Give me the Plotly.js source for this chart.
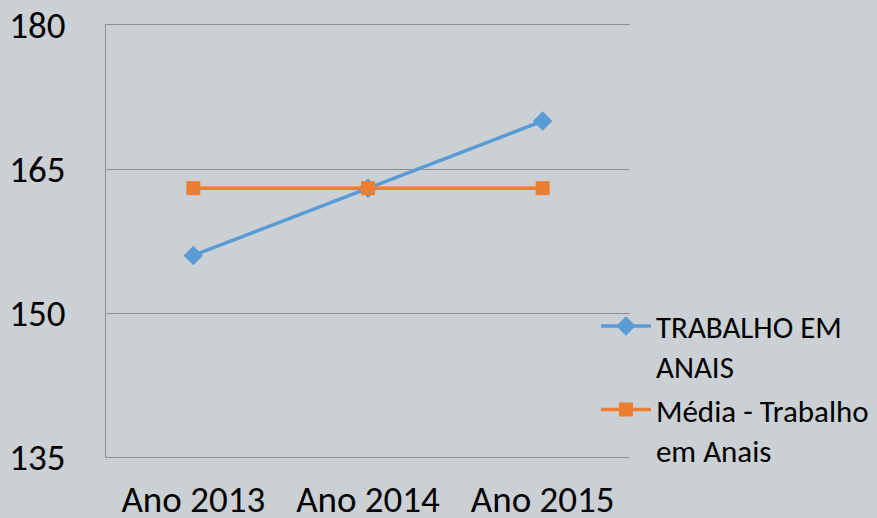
<!DOCTYPE html>
<html><head><meta charset="utf-8">
<script src="https://cdn.plot.ly/plotly-3.0.1.min.js"></script>
<style>html,body{margin:0;padding:0;background:#cbd0d4;}</style>
</head><body>
<div id="chart" style="width:877px;height:518px;"></div>
<script>
const categories = ["Ano 2013", "Ano 2014", "Ano 2015"];
const trabalhoValues = [156, 163, 170];
const mediaValues = [163, 163, 163];
const yTicks = [135, 150, 165, 180];
const seriesNames = ["TRABALHO EM<br>ANAIS", "Média - Trabalho<br>em Anais"];

const font = "Calibri, Carlito, 'Open Sans', 'Liberation Sans', sans-serif";
const data = [
  {x: categories, y: trabalhoValues, name: seriesNames[0], type: 'scatter', mode: 'lines+markers',
   line: {color: '#5b9bd5', width: 3.5}, marker: {symbol: 'diamond', size: 15, color: '#5b9bd5'}},
  {x: categories, y: mediaValues, name: seriesNames[1], type: 'scatter', mode: 'lines+markers',
   line: {color: '#ed7d31', width: 3.5}, marker: {symbol: 'square', size: 14, color: '#ed7d31'}}
];
const layout = {
  width: 877, height: 518,
  paper_bgcolor: '#cbd0d4', plot_bgcolor: '#cbd0d4',
  margin: {l: 106, r: 247, t: 25, b: 61, autoexpand: false},
  font: {family: font, size: 37, color: '#000'},
  showlegend: true,
  legend: {x: 0.935, xanchor: 'left', y: 0.365, yanchor: 'top', bgcolor: 'rgba(0,0,0,0)',
           font: {size: 31, family: font}, tracegroupgap: 0, itemwidth: 50, valign: 'top'},
  xaxis: {type: 'category', range: [-0.5, 2.5], showgrid: false, zeroline: false,
          showline: true, mirror: true, linecolor: '#8e8e8e', linewidth: 1,
          ticks: 'outside', ticklen: 10, tickcolor: 'rgba(0,0,0,0)', tickfont: {size: 37}},
  yaxis: {range: [135, 180], tickvals: yTicks, showgrid: true, gridcolor: '#8e8e8e', gridwidth: 1,
          showline: true, linecolor: '#8e8e8e', linewidth: 1, zeroline: false,
          ticks: 'outside', ticklen: 32, tickcolor: 'rgba(0,0,0,0)', tickfont: {size: 37}}
};
Plotly.newPlot('chart', data, layout, {displayModeBar: false});
</script>
</body></html>
